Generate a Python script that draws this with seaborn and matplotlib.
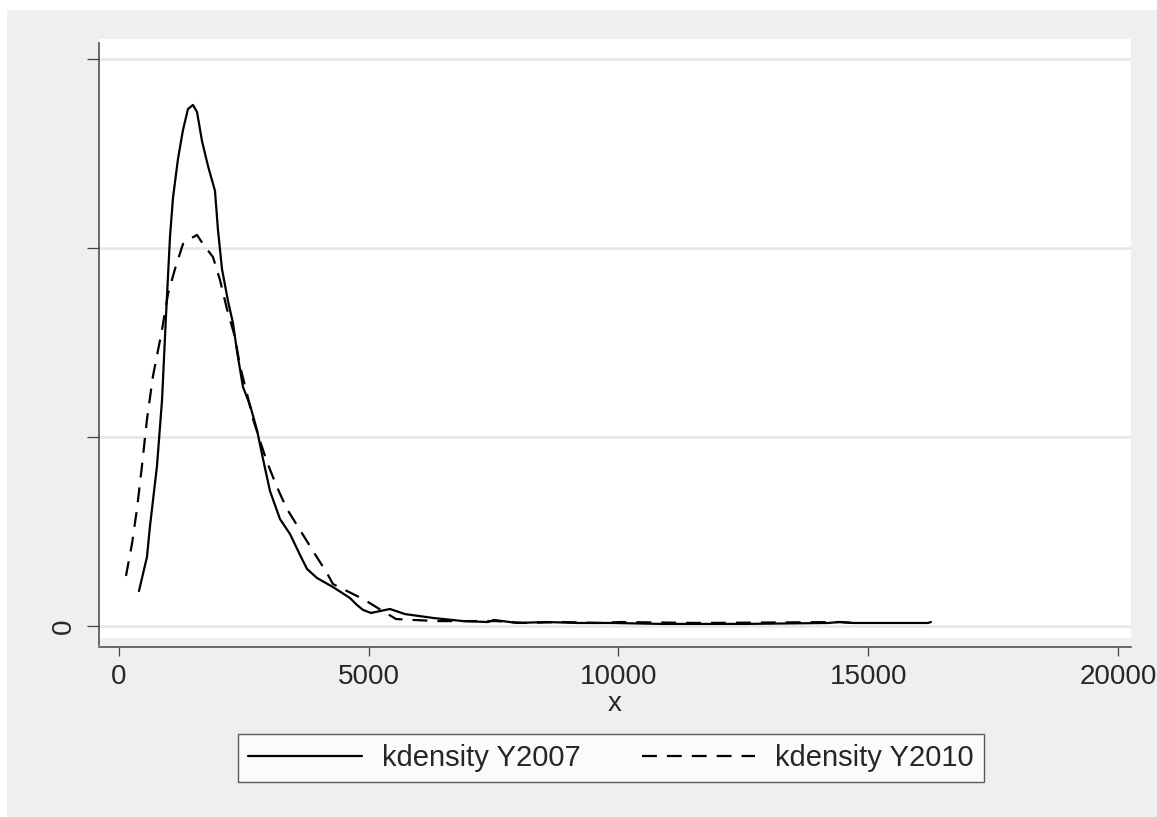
import numpy as np
import pandas as pd
import matplotlib
matplotlib.use("Agg")
import matplotlib.pyplot as plt
from matplotlib.patches import Rectangle
import seaborn as sns

# Kernel density estimates (density in units of 1e-4)
x_2007 = [400, 560, 621, 761, 862, 941, 1021, 1081, 1181, 1281, 1381, 1481,
          1562, 1662, 1782, 1922, 1982, 2062, 2182, 2282, 2362, 2482, 2623,
          2763, 2883, 3023, 3223, 3423, 3624, 3764, 3964, 4284, 4625, 4765,
          4885, 5045, 5425, 5726, 6306, 6887, 7387, 7508, 7968, 8549, 9209,
          9870, 10871, 12533, 14194, 14434, 14695, 16196, 16256]
d_2007 = [0.185, 0.365, 0.529, 0.847, 1.196, 1.640, 2.058, 2.265, 2.471,
          2.624, 2.735, 2.757, 2.720, 2.566, 2.434, 2.302, 2.095, 1.889,
          1.720, 1.603, 1.455, 1.265, 1.169, 1.037, 0.884, 0.714, 0.566,
          0.487, 0.376, 0.302, 0.254, 0.206, 0.148, 0.111, 0.085, 0.069,
          0.090, 0.063, 0.042, 0.026, 0.021, 0.032, 0.016, 0.021, 0.016,
          0.016, 0.011, 0.011, 0.016, 0.021, 0.016, 0.016, 0.021]

x_2010 = [140, 260, 360, 460, 561, 681, 861, 981, 1121, 1281, 1421, 1562,
          1682, 1882, 2022, 2162, 2322, 2422, 2563, 2683, 2823, 2963, 3163,
          3363, 3624, 3884, 4164, 4284, 4885, 5145, 5345, 5546, 5886, 6386,
          6967, 7548, 8128, 8869, 9630, 10030, 11632, 14434, 14695]
d_2010 = [0.265, 0.434, 0.619, 0.847, 1.095, 1.323, 1.566, 1.757, 1.889,
          2.021, 2.048, 2.069, 2.021, 1.952, 1.831, 1.677, 1.529, 1.376,
          1.228, 1.095, 0.979, 0.868, 0.735, 0.619, 0.508, 0.397, 0.280,
          0.222, 0.143, 0.101, 0.069, 0.037, 0.032, 0.026, 0.026, 0.026,
          0.016, 0.021, 0.016, 0.021, 0.016, 0.021, 0.016]

labels = ["kdensity Y2007", "kdensity Y2010"]
x_ticks = [0, 5000, 10000, 15000, 20000]
y_ticks = [0, 1, 2, 3]
y_ticklabels = ["0", "", "", ""]

df = pd.concat([
    pd.DataFrame({"x": x_2007, "density": d_2007, "series": labels[0]}),
    pd.DataFrame({"x": x_2010, "density": d_2010, "series": labels[1]}),
], ignore_index=True)

sns.set_style("white")
plt.rcParams["font.family"] = ["Liberation Sans", "DejaVu Sans"]

W, H = 1157, 817
FS = 20
fig = plt.figure(figsize=(W / 100, H / 100), dpi=100)
fig.patch.set_facecolor("#efefef")
# thin white strips on top and left, as in the export
fig.add_artist(Rectangle((0, 1 - 10 / H), 1, 10 / H, transform=fig.transFigure,
                         facecolor="white", edgecolor="none", zorder=-10))
fig.add_artist(Rectangle((0, 0), 7 / W, 1, transform=fig.transFigure,
                         facecolor="white", edgecolor="none", zorder=-10))

ax = fig.add_axes([99 / W, 1 - 638 / H, (1131 - 99) / W, (638 - 39) / H])
ax.set_facecolor("white")

sns.lineplot(data=df, x="x", y="density", style="series", color="black",
             dashes={labels[0]: "", labels[1]: (6.7, 4.5)}, linewidth=1.6,
             sort=False, estimator=None, ax=ax)

ax.set_xlim(-400, 20260)
ax.set_ylim(-0.0635, 3.1058)
ax.set_xticks(x_ticks)
ax.set_xticklabels([str(t) for t in x_ticks])
ax.set_yticks(y_ticks)
ax.set_yticklabels(y_ticklabels, rotation=90, va="center")
ax.grid(axis="y", color="#e6e6e6", linewidth=1.8)
ax.grid(axis="x", visible=False)
ax.set_axisbelow(True)

for s in ["top", "right"]:
    ax.spines[s].set_visible(False)
ax.spines["bottom"].set_position(("outward", 6.5))
ax.spines["bottom"].set_color("#444444")
ax.spines["left"].set_color("#444444")
ax.spines["bottom"].set_linewidth(1.1)
ax.spines["left"].set_linewidth(1.1)
ax.spines["left"].set_bounds(-0.1, 3.085)

ax.tick_params(axis="x", direction="out", length=6.5, width=0.9, color="#444444",
               labelsize=FS, pad=5.5, bottom=True)
ax.tick_params(axis="y", direction="out", length=8.6, width=0.9, color="#444444",
               labelsize=FS, pad=7, left=True)
ax.set_xlabel("x", fontsize=FS, labelpad=1)
ax.set_ylabel("")

handles, _ = ax.get_legend_handles_labels()
ax.get_legend().remove()
leg = fig.legend(handles, labels, loc="center", ncol=2,
                 bbox_to_anchor=(611 / W, 1 - 758 / H), fontsize=21,
                 frameon=True, fancybox=False, edgecolor="#333333",
                 handlelength=3.9, handletextpad=0.68, columnspacing=2.1,
                 borderpad=0.35)
leg.get_frame().set_linewidth(1.0)
leg.get_frame().set_facecolor("white")

fig.savefig("out.png", dpi=100)
